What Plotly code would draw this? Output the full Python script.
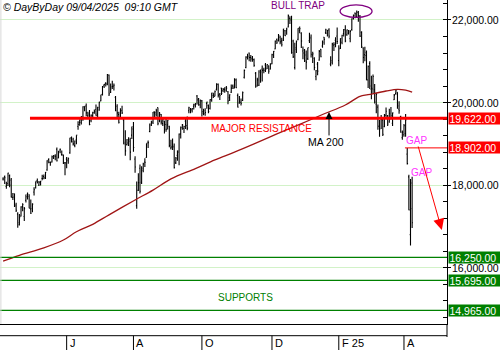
import plotly.graph_objects as go

# ---- daily OHLC (Nasdaq-100 style) ----
opens = [18150,18200,17970,18040,18230,18120,17700,17790,17520,17300,
17090,17250,17480,17240,17630,17780,17730,17420,17430,17830,
17930,18110,18000,18070,18160,18210,18170,18370,18620,18550,
18560,18660,18700,18870,18660,18850,18740,18720,18540,18630,
18590,18780,19150,19050,18960,19100,19420,19520,19520,19640,
19900,19920,19680,19740,19560,19680,19760,19830,19720,19820,
20040,20200,20410,20470,20460,20660,20250,20380,20400,20130,
19910,19710,19640,19800,19580,19040,18980,19100,19100,19210,
19420,18630,17500,17880,18410,18070,18360,18560,18670,19040,
19300,19450,19530,19750,19760,19880,19610,19710,19490,19550,
19470,19460,19420,18900,18930,18940,18540,18720,18800,19240,
19400,19370,19550,19440,19800,19840,19830,19910,19950,20160,
20090,19940,20040,19740,19730,19980,19930,19860,20060,20170,
20150,20320,20440,20200,20350,20290,20310,20300,20260,20120,
20250,20400,20380,20550,20170,19990,20000,20050,20610,20850,
21100,21200,21090,21050,21040,20710,20420,20420,20780,20810,
20790,20910,20830,20890,20810,20940,21150,21300,21520,21500,
21580,21490,21510,21740,21740,21830,22040,22030,21490,20850,
21330,21530,21740,21680,21250,21270,21150,21060,21500,21580,
21150,21070,20630,20930,21030,21290,21370,21580,21690,21680,
21760,20930,21020,21390,21510,21610,21020,21320,21460,21670,
21760,21640,21680,21550,21770,22050,22170,22080,22190,22090,
21700,21320,21160,21210,20550,20950,20320,20330,20310,19960,
19890,19420,19610,19580,19420,19690,19680,19530,19620,19500,
20070,20220,20250,19840,19660,19150,19220,19250,18750,18200,
16800,18050]
highs = [18190,18230,18080,18300,18260,18170,17810,17800,17570,17340,
17300,17490,17560,17470,17770,17820,17780,17650,17560,17950,
18090,18160,18100,18100,18250,18260,18320,18600,18650,18570,
18720,18730,18750,18910,18830,18890,18840,18740,18560,18680,
18670,19150,19180,19150,19080,19210,19550,19590,19670,19910,
19910,19980,19780,19820,19710,19780,19830,19950,19900,20020,
20190,20400,20450,20490,20690,20680,20460,20530,20460,20160,
19960,19780,19860,19920,19620,19330,19120,19160,19150,19420,
19530,18700,18090,18290,18500,18460,18540,18650,19010,19080,
19490,19560,19770,19790,19850,19880,19770,19720,19610,19560,
19630,19580,19440,19100,19130,19010,18680,18840,19250,19420,
19480,19440,19620,19660,19900,19870,19870,19970,19990,20180,
20110,20070,20060,19850,19860,20020,19950,20080,20240,20240,
20290,20470,20460,20230,20360,20350,20370,20400,20280,20200,
20440,20440,20590,20580,20220,20160,20100,20270,20800,21120,
21180,21210,21150,21130,21070,20740,20600,20780,20800,20900,
20840,20960,20930,20900,20950,21180,21250,21500,21550,21660,
21620,21570,21790,21760,21810,22130,22090,22100,21520,21450,
21500,21800,21840,21700,21360,21300,21260,21330,21690,21650,
21230,21100,20790,20980,21270,21300,21500,21590,21790,21760,
21800,21120,21450,21460,21580,21820,21390,21560,21640,21780,
21870,21770,21760,21760,22040,22130,22180,22230,22220,22120,
21730,21340,21350,21260,20900,21000,20650,20680,20450,20240,
19950,19580,19700,19620,19720,19880,19700,19850,19890,19760,
20210,20330,20250,20030,19680,19320,19480,19720,18900,18250,
18150,18200]
lows = [18110,18030,17910,17980,17950,17700,17640,17470,17350,16970,
17020,17240,17370,17130,17580,17650,17440,17300,17340,17750,
17920,18040,17980,17990,18120,18140,18150,18350,18530,18470,
18550,18630,18600,18570,18650,18770,18710,18510,18240,18410,
18520,18760,19030,18960,18920,18990,19340,19440,19470,19560,
19790,19670,19600,19450,19520,19610,19730,19680,19640,19800,
20030,20170,20350,20390,20420,20160,20230,20330,20290,19790,
19610,19490,19610,19720,18990,18710,18960,18950,18600,19120,
18810,18300,17430,17860,17800,18030,18310,18440,18660,18900,
19280,19430,19480,19650,19660,19450,19520,19470,19430,19250,
19290,19350,18920,18860,18850,18400,18510,18590,18480,19130,
19340,19260,19360,19330,19740,19740,19760,19830,19880,19950,
19920,19860,19660,19690,19680,19850,19740,19830,20020,20110,
20150,20290,20120,20060,20180,20250,20240,20260,19960,20040,
20230,20330,20340,20350,19880,19970,19930,20040,20580,20830,
21040,21000,20990,20990,20870,20360,20390,20400,20480,20510,
20710,20740,20810,20700,20800,20930,21080,21290,21420,21480,
21410,21360,21490,21610,21640,21820,21900,21180,21080,20800,
21200,21510,21680,21320,21050,20980,20800,21030,21440,21090,
20960,20780,20540,20660,21010,21100,21330,21400,21660,21600,
21560,20880,20920,21250,21340,21420,20880,21300,21410,21600,
21460,21620,21650,21460,21740,22010,22040,22050,21960,21590,
21320,20950,21000,20540,20350,20330,20080,20220,19980,19740,
19340,19170,19360,19190,19400,19650,19430,19510,19590,19430,
20060,20190,19850,19730,19270,19100,19170,19170,18500,17390,
16540,16960]
closes = [18150,18180,17990,18290,18000,17710,17710,17490,17390,17040,
17210,17470,17530,17430,17720,17780,17440,17320,17540,17890,
18090,18070,18070,18100,18160,18180,18310,18590,18550,18550,
18690,18710,18700,18590,18810,18870,18740,18540,18540,18610,
18640,19140,19110,19000,19070,19210,19470,19580,19660,19900,
19910,19750,19700,19470,19700,19750,19790,19680,19880,20010,
20190,20390,20440,20440,20680,20210,20330,20390,20420,19800,
19750,19520,19810,19750,19000,18830,19020,19060,18800,19360,
18910,18440,17870,18060,17850,18410,18510,18550,19010,19030,
19480,19510,19770,19720,19800,19490,19720,19530,19590,19350,
19350,19570,18960,18920,18920,18420,18650,18830,19240,19390,
19460,19420,19440,19380,19880,19810,19850,19940,19960,20060,
19950,20060,19780,19800,19760,20010,19780,20070,20230,20180,
20270,20440,20180,20170,20220,20320,20360,20350,20040,20190,
20350,20350,20550,20360,19890,20030,19980,20240,20780,21100,
21120,21090,21070,21040,20900,20390,20550,20740,20740,20780,
20780,20800,20920,20760,20930,21160,21240,21490,21460,21620,
21470,21400,21780,21620,21780,22100,22000,21210,21110,21290,
21490,21800,21790,21490,21200,21010,20980,21330,21550,21170,
21180,20850,20770,20760,21240,21110,21460,21530,21760,21750,
21610,20980,21420,21410,21480,21480,21300,21550,21630,21770,
21490,21760,21710,21720,22030,22110,22150,22180,22100,21610,
21350,21090,21140,20550,20880,20400,20350,20630,20010,20200,
19430,19360,19590,19230,19700,19790,19480,19740,19680,19750,
20180,20290,19920,19800,19280,19280,19440,19580,18520,17400,
17430,17090]
day_index = list(range(len(closes)))

# 200-day moving average, read at points along the line
ma_pos = [0, 10, 25, 37, 45, 55, 65, 81, 92, 103, 118, 130, 142, 154, 168, 182, 196, 210, 219, 224, 235, 242, 247, 251]
ma_vals = [16160, 16300, 16480, 16670, 16870, 17050, 17280, 17640, 17880, 18150,
           18400, 18610, 18800, 19000, 19240, 19470, 19710, 19940, 20150, 20190,
           20280, 20320, 20300, 20250]

month_labels = ["J", "A", "O", "D", "F 25", "A"]
month_pos = [39, 80, 122, 165, 206, 246]

axis_levels = [22000, 20000, 18000, 16000]
resistance = 19622
gap_level = 18902
supports = [16250, 15695, 14965]

X_MIN, X_MAX = -1.9, 272.4
Y_MIN, Y_MAX = 14636, 22484
FONT = "Liberation Sans, Arial, sans-serif"
PLOT_H = 324.0

fig = go.Figure()
fig.add_trace(go.Ohlc(
    x=day_index, open=opens, high=highs, low=lows, close=closes,
    increasing=dict(line=dict(color="black", width=1.1)),
    decreasing=dict(line=dict(color="black", width=1.1)),
    tickwidth=0.5, hoverinfo="skip", showlegend=False))
fig.add_trace(go.Scatter(
    x=ma_pos, y=ma_vals, mode="lines", line_shape="spline",
    line=dict(color="#a01515", width=1.3), hoverinfo="skip", showlegend=False))

shapes = []
# resistance
shapes.append(dict(type="line", xref="x", yref="y", x0=16.5, x1=X_MAX,
                   y0=resistance, y1=resistance, line=dict(color="#ff0000", width=3)))
shapes.append(dict(type="line", xref="x", yref="y", x0=246.6, x1=X_MAX,
                   y0=gap_level, y1=gap_level, line=dict(color="#ff0000", width=1)))
for s in supports:
    shapes.append(dict(type="line", xref="x", yref="y", x0=X_MIN, x1=X_MAX,
                       y0=s, y1=s, line=dict(color="#008000", width=1.3)))
# bull trap ellipse
shapes.append(dict(type="circle", xref="x", yref="y", x0=206.8, x1=226.4,
                   y0=22061, y1=22364, line=dict(color="#800080", width=1.3)))
# bottom strip
y_strip = -11.7 / PLOT_H
y_bottom = -26.0 / PLOT_H
shapes.append(dict(type="line", xref="paper", yref="paper", x0=0, x1=1,
                   y0=y_strip, y1=y_strip, line=dict(color="black", width=1)))
for p in month_pos:
    shapes.append(dict(type="line", xref="x", yref="paper", x0=p, x1=p,
                       y0=y_strip, y1=y_bottom, line=dict(color="black", width=1)))
shapes.append(dict(type="line", xref="paper", yref="paper", x0=1, x1=1,
                   y0=0, y1=-13 / PLOT_H, line=dict(color="black", width=1)))
shapes.append(dict(type="line", xref="paper", yref="paper", x0=0.002, x1=0.002,
                   y0=0, y1=1, line=dict(color="#d8d8d8", width=1)))

ann = []
ann.append(dict(xref="paper", yref="paper", x=0, y=1, xanchor="left", yanchor="top",
                xshift=1, yshift=1, showarrow=False,
                text="<i>© DayByDay 09/04/2025  09:10 GMT</i>",
                font=dict(family=FONT, size=10.5, color="black")))
for v in axis_levels:
    ann.append(dict(xref="paper", yref="y", x=1, y=v, xanchor="left", yanchor="middle",
                    xshift=2.5, showarrow=False, text=f"{v:,.2f}",
                    font=dict(family=FONT, size=10.5, color="black")))
boxes = [(resistance, "#ff0000"), (gap_level, "#ff0000")] + [(s, "#008000") for s in supports]
for v, c in boxes:
    ann.append(dict(xref="paper", yref="y", x=1, y=v, xanchor="left", yanchor="middle",
                    xshift=0.5, showarrow=False, text=f"{v:,.2f}", bgcolor=c,
                    width=50, height=10, borderpad=0.5, align="left",
                    font=dict(family=FONT, size=10.5, color="white")))
for p, t in zip(month_pos, month_labels):
    ann.append(dict(xref="x", yref="paper", x=p, y=-19.3 / PLOT_H, xanchor="left",
                    yanchor="middle", xshift=1, showarrow=False, text=t,
                    font=dict(family=FONT, size=11, color="black")))
ann.append(dict(xref="x", yref="y", x=158.6, y=19361, showarrow=False, text="MAJOR RESISTANCE",
                font=dict(family=FONT, size=10, color="#ff0000")))
ann.append(dict(xref="x", yref="y", x=198.2, y=19053, showarrow=False, text="MA 200",
                font=dict(family=FONT, size=10.5, color="black")))
ann.append(dict(xref="x", yref="y", x=181, y=22340, showarrow=False, text="BULL TRAP",
                font=dict(family=FONT, size=10, color="#800080")))
ann.append(dict(xref="x", yref="y", x=148.5, y=15284, showarrow=False, text="SUPPORTS",
                font=dict(family=FONT, size=10, color="#008000")))
ann.append(dict(xref="x", yref="y", x=253.8, y=19077, showarrow=False, text="GAP",
                font=dict(family=FONT, size=10, color="#ff33ff")))
ann.append(dict(xref="x", yref="y", x=256.5, y=18312, showarrow=False, text="GAP",
                font=dict(family=FONT, size=10, color="#ff33ff")))
# arrows
ann.append(dict(xref="x", yref="y", x=200.0, y=19772, ax=0, ay=25, text="",
                showarrow=True, arrowhead=2, arrowsize=1.4, arrowwidth=1, arrowcolor="black"))
ann.append(dict(xref="x", yref="y", x=269.2, y=16914, ax=-24, ay=-85, text="",
                showarrow=True, arrowhead=2, arrowsize=2.2, arrowwidth=1, arrowcolor="#ff0000"))

fig.update_layout(
    width=500, height=350, margin=dict(l=0, r=53, t=0, b=26),
    paper_bgcolor="white", plot_bgcolor="white",
    shapes=shapes, annotations=ann, showlegend=False,
    xaxis=dict(range=[X_MIN, X_MAX], rangeslider=dict(visible=False), showgrid=False,
               zeroline=False, showticklabels=False, ticks="", showline=True,
               linecolor="black", linewidth=1),
    yaxis=dict(range=[Y_MIN, Y_MAX], side="right", showgrid=True, gridcolor="#d2f2c8",
               gridwidth=1, zeroline=False, tick0=0, dtick=2000, ticks="outside",
               ticklen=3, tickcolor="black", showticklabels=False, showline=True,
               linecolor="black", linewidth=1,
               minor=dict(dtick=400, tick0=0, ticks="inside", ticklen=4,
                          tickcolor="black", showgrid=False)),
)
fig.write_html("out.html")
